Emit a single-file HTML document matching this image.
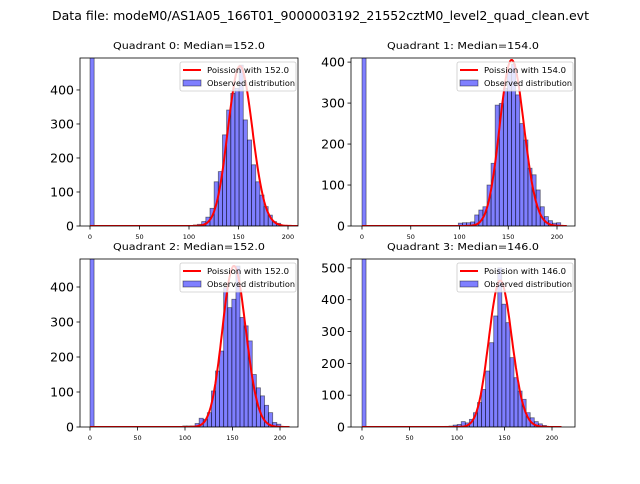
<!DOCTYPE html>
<html><head><meta charset="utf-8"><style>
body{margin:0;background:#fff;width:640px;height:480px;overflow:hidden;font-family:"DejaVu Sans","Liberation Sans",sans-serif}
</style></head><body>
<svg id="c" width="640" height="480" xmlns="http://www.w3.org/2000/svg" font-family="DejaVu Sans, Liberation Sans, sans-serif">
<text x="52" y="20" textLength="537" lengthAdjust="spacingAndGlyphs" font-size="12.5">Data file: modeM0/AS1A05_166T01_9000003192_21552cztM0_level2_quad_clean.evt</text>
</svg>
<script>
const medians=[152,154,152,146];
const peaks=[470,405,460,460];
const binStart=[104.4,98.8,97.7,87.4];
const binWidth=[4.2,4.2,4.3,4.27];
const counts0=[3,5,13,26,52,130,160,268,341,390,405,473,312,253,180,130,91,57,32,13,8];
const counts1=[7,8,8,10,27,39,47,100,153,295,299,336,380,395,320,250,210,141,125,88,47,23,13,7,8];
const counts2=[3,3,3,10,25,22,41,103,160,217,398,341,365,460,313,289,246,150,112,89,62,41,13,8];
const counts3=[2,3,6,8,17,13,24,45,77,118,176,265,349,500,386,328,218,155,113,87,45,29,17,10,5];
const zeroBin=[600,600,600,600];
const yTicks=[[0,100,200,300,400],[0,100,200,300,400],[0,100,200,300,400],[0,100,200,300,400,500]];
const xTicks=[0,50,100,150,200];
const yMax=[494,410,480,528];
const panels=[{l:80,t:58,r:298,b:226,x0:90,x200:288},{l:351,t:58,r:575,b:226,x0:362,x200:557},{l:80,t:259,r:298,b:427,x0:90,x200:280},{l:351,t:259,r:575,b:427,x0:362,x200:552}];
const allCounts=[counts0,counts1,counts2,counts3];
const NS="http://www.w3.org/2000/svg",svg=document.getElementById('c');
function mk(t,a,p){const e=document.createElementNS(NS,t);for(const k in a)e.setAttribute(k,a[k]);(p||svg).appendChild(e);return e;}
function lgam(z){const c=[76.18009172947146,-86.50532032941677,24.01409824083091,-1.231739572450155,0.1208650973866179e-2,-0.5395239384953e-5];let x=z,y=z,t=x+5.5;t-=(x+0.5)*Math.log(t);let s=1.000000000190015;for(let j=0;j<6;j++)s+=c[j]/++y;return -t+Math.log(2.5066282746310005*s/x);}
function lpmf(k,mu){return k*Math.log(mu)-mu-lgam(k+1);}
const FILL='rgba(0,0,255,0.5)',EDGE='rgba(0,0,0,0.5)';
panels.forEach((p,i)=>{
  const g=mk('g',{});
  
  
  const X=v=>p.x0+(p.x200-p.x0)*v/200, Y=v=>p.b-(p.b-p.t)*v/yMax[i];
  const clip=mk('clipPath',{id:'cl'+i},g);mk('rect',{x:p.l,y:p.t,width:p.r-p.l,height:p.b-p.t},clip);
  const pg=mk('g',{'clip-path':'url(#cl'+i+')'},g);
  const w=binWidth[i];
  const zb=mk('rect',{x:X(0),y:Y(zeroBin[i]),width:X(w)-X(0),height:Y(0)-Y(zeroBin[i]),fill:FILL,stroke:EDGE,'stroke-width':0.8},pg);
  
  
  allCounts[i].forEach((v,j)=>{
    const b=binStart[i]+j*w;
    const r=mk('rect',{x:X(b),y:Y(v),width:X(b+w)-X(b),height:Y(0)-Y(v),fill:FILL,stroke:EDGE,'stroke-width':0.8},pg);
    
    
  });
  const mu=medians[i],pk=lpmf(Math.floor(mu),mu);let d='';
  for(let k=0;k<=210;k++){const v=peaks[i]*Math.exp(lpmf(k,mu)-pk);d+=(k?'L':'M')+X(k).toFixed(1)+' '+Y(v).toFixed(1);}
  const ln=mk('path',{d:d,fill:'none',stroke:'#ff0000','stroke-width':2},pg);
  
  
  mk('rect',{x:p.l,y:p.t,width:p.r-p.l,height:p.b-p.t,fill:'none',stroke:'#000','stroke-width':0.8},g);
  xTicks.forEach(t=>{mk('line',{x1:X(t),x2:X(t),y1:p.b,y2:p.b+3.5,stroke:'#000','stroke-width':0.8},g);
    const tx=mk('text',{x:X(t),y:p.b+13,'text-anchor':'middle','font-size':6.5},g);tx.textContent=t;
    });
  yTicks[i].forEach(t=>{mk('line',{x1:p.l-3.5,x2:p.l,y1:Y(t),y2:Y(t),stroke:'#000','stroke-width':0.8},g);
    const tx=mk('text',{x:p.l-6,y:Y(t)+4.5,'text-anchor':'end','font-size':12.5},g);tx.textContent=t;
    });
  const ti=mk('text',{x:(p.l+p.r)/2,y:p.t-9,'text-anchor':'middle','font-size':10,textLength:152,lengthAdjust:'spacingAndGlyphs'},g);ti.textContent='Quadrant '+i+': Median='+mu.toFixed(1);
  
  const lg=mk('g',{},g);
  const lx=p.r-118,ly=p.t+4;
  mk('rect',{x:lx,y:ly,width:116,height:29,rx:2,fill:'rgba(255,255,255,0.8)',stroke:'#ccc','stroke-width':0.8},lg);
  mk('line',{x1:lx+3,x2:lx+21,y1:ly+8,y2:ly+8,stroke:'#f00','stroke-width':2},lg);
  mk('rect',{x:lx+3,y:ly+18,width:18,height:6,fill:FILL,stroke:EDGE,'stroke-width':0.8},lg);
  const t1=mk('text',{x:lx+27,y:ly+11,'font-size':8,textLength:82,lengthAdjust:'spacingAndGlyphs'},lg);t1.textContent='Poission with '+mu.toFixed(1);
  const t2=mk('text',{x:lx+27,y:ly+24,'font-size':8,textLength:88,lengthAdjust:'spacingAndGlyphs'},lg);t2.textContent='Observed distribution';
});
</script>
</body></html>
